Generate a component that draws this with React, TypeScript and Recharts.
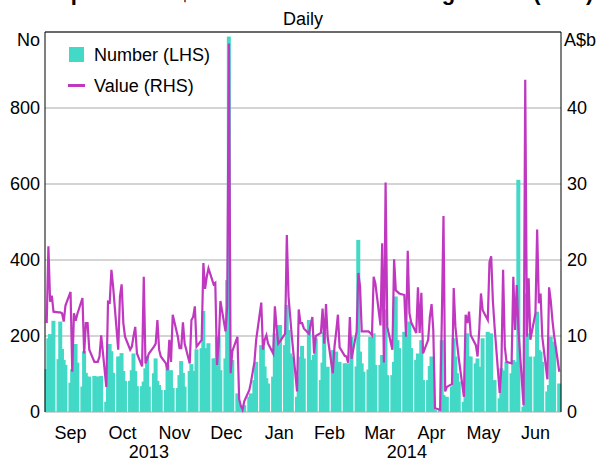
import React from "react";
import {
  ComposedChart,
  Bar,
  Line,
  XAxis,
  YAxis,
  CartesianGrid,
  Legend,
  ReferenceLine,
} from "recharts";

const TEAL = "#42d9c6";
const MAGENTA = "#bf38bf";
const FONT = "Arial, 'Liberation Sans', Helvetica, sans-serif";

// Number of trades registered (LHS), one entry per weekday of each month
const sepNumber = [113, 194, 205, 200, 240, 139, 238, 166, 137, 124, 77, 113, 179, 179, 130, 67, 160, 103, 93, 93, 95];
const octNumber = [93, 93, 93, 95, 27, 126, 179, 160, 103, 146, 146, 155, 108, 82, 82, 110, 154, 108, 68, 68, 80, 115, 147];
const novNumber = [67, 102, 141, 82, 71, 58, 58, 124, 102, 110, 63, 63, 97, 134, 103, 67, 108, 126, 108, 54, 165];
const decNumber = [168, 266, 168, 128, 181, 141, 141, 198, 198, 110, 141, 347, 988, 106, 137, 49, 20, 3, 5, 18, 40, 49];
const janNumber = [5, 84, 132, 176, 172, 120, 89, 75, 93, 207, 172, 229, 229, 176, 282, 216, 154, 146, 40, 93, 146, 174, 141];
const febNumber = [242, 137, 102, 150, 194, 84, 130, 211, 84, 119, 163, 120, 159, 110, 132, 128, 128, 110, 128, 198];
const marNumber = [120, 453, 159, 128, 106, 112, 198, 172, 207, 124, 124, 150, 75, 270, 97, 97, 132, 304, 189, 168, 211];
const aprNumber = [112, 203, 238, 168, 137, 154, 130, 189, 84, 84, 121, 146, 102, 5, 5, 189, 45, 40, 40, 67, 194, 146];
const mayNumber = [102, 80, 27, 104, 207, 146, 146, 128, 141, 89, 119, 194, 211, 168, 207, 62, 84, 36, 115, 109, 49, 132];
const junNumber = [102, 137, 93, 132, 611, 14, 312, 207, 132, 146, 146, 264, 163, 159, 132, 54, 71, 198, 102, 185, 75];

// Value of trades registered, A$b (RHS)
const sepValue = [11.7, 21.8, 14.5, 15.3, 13.2, 13.1, 13.1, 13.0, 11.9, 14.0, 15.8, 5.3, 13.0, 12.0, 12.9, 15.0, 7.7, 11.7, 11.7, 8.2, 6.6];
const octValue = [6.6, 6.6, 7.3, 10.1, 3.3, 14.5, 14.4, 18.7, 16.5, 8.2, 15.2, 16.8, 11.7, 9.9, 8.2, 8.6, 10.0, 11.2, 7.7, 6.0, 17.8, 6.4, 7.0];
const novValue = [7.7, 8.6, 9.0, 12.1, 8.2, 7.3, 6.4, 5.5, 9.5, 6.6, 12.8, 9.9, 8.4, 8.4, 11.8, 9.0, 6.4, 12.1, 12.5, 13.9, 8.6];
const decValue = [9.5, 19.6, 16.2, 17.8, 18.9, 16.8, 17.0, 6.2, 9.0, 14.6, 10.6, 14.0, 48.5, 5.1, 8.0, 9.9, 1.7, 0.8, 0.3, 1.4, 2.9, 4.0];
const janValue = [5.3, 6.6, 9.5, 14.4, 8.2, 9.5, 10.1, 9.0, 7.7, 13.9, 11.0, 9.0, 9.3, 10.3, 23.3, 15.2, 12.5, 9.8, 2.7, 13.5, 11.7, 11.7, 11.0];
const febValue = [10.3, 11.5, 12.5, 7.7, 10.0, 10.4, 13.6, 9.0, 14.2, 9.8, 5.1, 8.6, 10.6, 12.8, 8.5, 7.4, 7.3, 6.5, 12.5, 7.0];
const marValue = [10.6, 18.3, 16.5, 10.6, 10.6, 10.6, 10.4, 10.1, 17.8, 16.9, 11.4, 22.2, 6.5, 30.2, 11.2, 8.2, 20.1, 16.0, 15.8, 15.6, 15.4];
const aprValue = [9.9, 21.2, 13.0, 11.8, 10.4, 16.4, 10.4, 15.7, 7.7, 9.5, 12.5, 14.2, 10.8, 0.5, 0.3, 12.0, 25.8, 2.7, 3.3, 3.7, 16.3, 11.2];
const mayValue = [9.0, 7.0, 2.0, 12.8, 11.7, 13.2, 10.1, 8.8, 7.3, 10.8, 15.6, 13.4, 12.1, 19.7, 20.5, 14.6, 11.2, 2.5, 6.0, 18.7, 8.6, 6.6];
const junValue = [6.4, 17.8, 10.8, 16.7, 10.8, 0.9, 43.7, 9.9, 17.6, 9.5, 13.0, 24.0, 14.3, 15.6, 9.9, 4.3, 16.4, 14.6, 12.0, 10.0, 5.3];

const monthLabels = ["Sep", "Oct", "Nov", "Dec", "Jan", "Feb", "Mar", "Apr", "May", "Jun"];
const yearLabels = ["2013", "2014"];
const leftTicks = [0, 200, 400, 600, 800];
const rightTicks = [0, 10, 20, 30, 40];

const numberByMonth = [sepNumber, octNumber, novNumber, decNumber, janNumber, febNumber, marNumber, aprNumber, mayNumber, junNumber];
const valueByMonth = [sepValue, octValue, novValue, decValue, janValue, febValue, marValue, aprValue, mayValue, junValue];

// calendar day index from 1 Sep 2013
const DAY = 86400000;
const FIRST = Date.UTC(2013, 8, 1);
const dayOf = (y: number, m: number, d: number) => Math.round((Date.UTC(y, m, d) - FIRST) / DAY);
const ym = (i: number) => ({ y: 2013 + Math.floor((8 + i) / 12), m: (8 + i) % 12 });

const monthStarts = monthLabels.map((_, i) => dayOf(ym(i).y, ym(i).m, 1));
const END = dayOf(2014, 6, 1);
const monthEdges = [...monthStarts, END];
const monthMids = monthLabels.map((_, i) => (monthEdges[i] + monthEdges[i + 1]) / 2);
const yearStart2014 = dayOf(2014, 0, 1);
const yearMids = [(0 + yearStart2014) / 2, (yearStart2014 + END) / 2];

const data: { day: number; number: number; value: number }[] = [];
numberByMonth.forEach((nums, i) => {
  const { y, m } = ym(i);
  const vals = valueByMonth[i];
  let k = 0;
  for (let d = 1; d <= 31; d++) {
    const t = new Date(Date.UTC(y, m, d));
    if (t.getUTCMonth() !== m) break;
    const wd = t.getUTCDay();
    if (wd === 0 || wd === 6) continue;
    data.push({ day: dayOf(y, m, d), number: nums[k], value: vals[k] });
    k++;
  }
});

const MonthTick = (props: any) => {
  const i = monthMids.indexOf(props.payload.value);
  return (
    <text x={props.x} y={props.y + 27} textAnchor="middle" fontSize={18} fontFamily={FONT} fill="#000">
      {monthLabels[i]}
    </text>
  );
};

const YearTick = (props: any) => {
  const i = yearMids.indexOf(props.payload.value);
  return (
    <text x={props.x} y={props.y + 24} textAnchor="middle" fontSize={18} fontFamily={FONT} fill="#000">
      {yearLabels[i]}
    </text>
  );
};

// daily bars are drawn a little wider than one day so a week reads as a block
const DayBar = (props: any) => {
  const { x, y, width, height, fill } = props;
  if (!height || height <= 0) return null;
  const cx = x + width / 2;
  return <rect x={cx - 2} y={y} width={4} height={height} fill={fill} />;
};

const renderLegend = () => (
  <div style={{ position: "relative", width: 230, height: 100, fontFamily: FONT, fontSize: 18, color: "#000" }}>
    <div style={{ position: "absolute", left: 69, top: 47, width: 15, height: 15, background: TEAL }} />
    <span style={{ position: "absolute", left: 94, top: 45, lineHeight: "20px", whiteSpace: "nowrap" }}>Number (LHS)</span>
    <div style={{ position: "absolute", left: 68, top: 84, width: 17, height: 3, background: MAGENTA }} />
    <span style={{ position: "absolute", left: 94, top: 76, lineHeight: "20px", whiteSpace: "nowrap" }}>Value (RHS)</span>
  </div>
);

const tickStyle = { fontSize: 18, fontFamily: FONT, fill: "#000" };

export default function App() {
  return (
    <div style={{ position: "fixed", left: 0, top: 0, width: 598, height: 462, background: "#fff", overflow: "hidden" }}>
      <ComposedChart width={598} height={462} data={data} margin={{ top: 32, right: 0, bottom: 0, left: 0 }}>
        <CartesianGrid xAxisId="t" yAxisId="l" vertical={false} stroke="#a9a9a9" />
        <XAxis xAxisId="t" type="number" dataKey="day" domain={[0, END]} ticks={monthStarts.slice(1)} interval={0} height={0} mirror tickSize={6} tickFormatter={() => ""} tickLine={{ stroke: "#000" }} axisLine={{ stroke: "#000" }} />
        <XAxis xAxisId="m" type="number" dataKey="day" domain={[0, END]} ticks={monthMids} interval={0} height={22} tickSize={0} tickMargin={0} tickLine={false} axisLine={false} tick={<MonthTick />} />
        <XAxis xAxisId="yr" type="number" dataKey="day" domain={[0, END]} ticks={yearMids} interval={0} height={28} tickSize={0} tickMargin={0} tickLine={false} axisLine={false} tick={<YearTick />} />
        <YAxis yAxisId="l" orientation="left" domain={[0, 1000]} ticks={leftTicks} interval={0} width={45} tickLine={false} tickSize={3} tickMargin={2} axisLine={{ stroke: "#000" }} tick={tickStyle} />
        <YAxis yAxisId="r" orientation="right" domain={[0, 50]} ticks={rightTicks} interval={0} width={37} tickLine={false} tickSize={4} tickMargin={2} axisLine={{ stroke: "#000" }} tick={tickStyle} />
        <Legend layout="vertical" align="center" verticalAlign="middle" content={renderLegend} wrapperStyle={{ left: 0, top: 0, width: 230, height: 100 }} />
        <Bar xAxisId="t" yAxisId="l" dataKey="number" name="Number (LHS)" fill={TEAL} barSize={3} shape={<DayBar />} isAnimationActive={false} />
        <Line xAxisId="t" yAxisId="r" dataKey="value" name="Value (RHS)" type="linear" stroke={MAGENTA} strokeWidth={2.2} dot={false} connectNulls isAnimationActive={false} />
        <ReferenceLine xAxisId="t" yAxisId="l" y={1000} stroke="#000" strokeWidth={1} />
      </ComposedChart>
      <svg width={598} height={462} style={{ position: "absolute", left: 0, top: 0, pointerEvents: "none" }}>
        <text x={310} y={0} textAnchor="middle" fontSize={22} fontWeight="bold" fontFamily={FONT} fill="#000">
          SwapClear – A$ Interest Rate Trades Registered (LCH)
        </text>
        <text x={303} y={25} textAnchor="middle" fontSize={18} fontFamily={FONT} fill="#000">Daily</text>
        <text x={40} y={46} textAnchor="end" fontSize={18} fontFamily={FONT} fill="#000">No</text>
        <text x={564} y={46} textAnchor="start" fontSize={18} fontFamily={FONT} fill="#000">A$b</text>
      </svg>
    </div>
  );
}
